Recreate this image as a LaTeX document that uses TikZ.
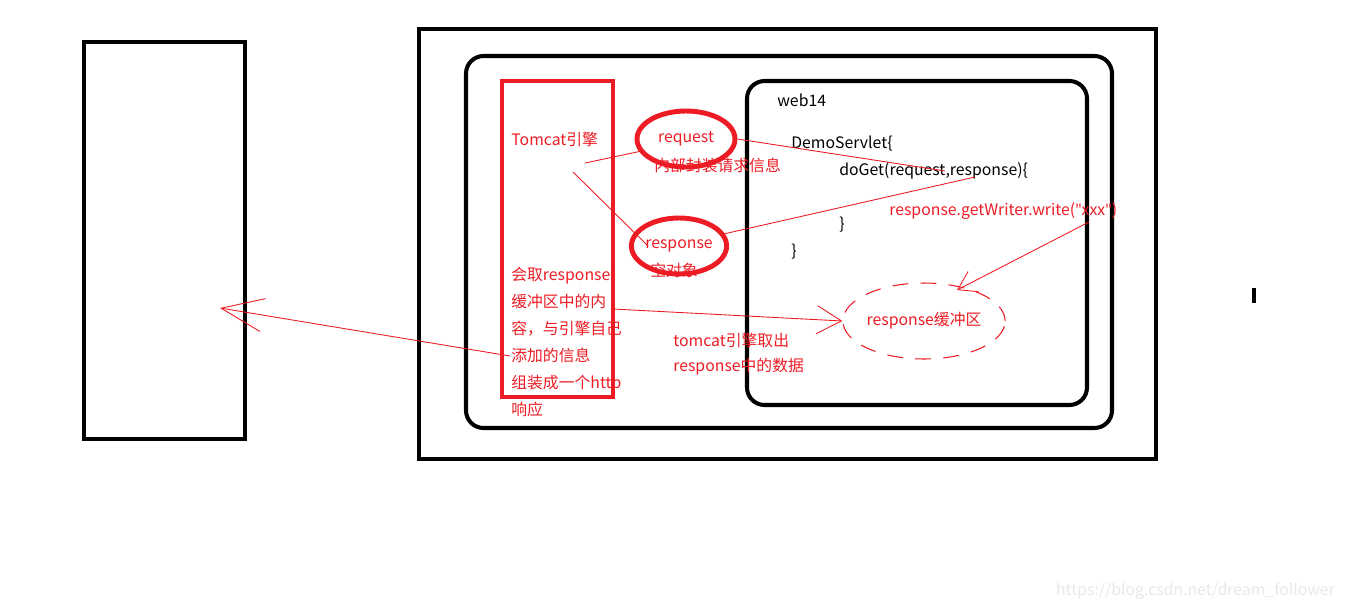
\documentclass[tikz,border=0pt]{standalone}
\usepackage{fontspec}
\setmainfont{Noto Sans CJK SC}
\newfontfamily\latinfont{Noto Sans}
\usepackage{tikz}
\usetikzlibrary{positioning}
\usetikzlibrary{shapes.geometric}
\usetikzlibrary{arrows.meta}
\definecolor{pred}{RGB}{237,28,36}
\newcommand{\dq}{{\latinfont\symbol{34}}}

\begin{document}
\begin{tikzpicture}[x=0.02cm,y=-0.02cm,font=\fontsize{9}{15.3}\selectfont]
	\tikzstyle{box}=[draw=black, line width=2.3pt]
	\tikzstyle{rbox}=[draw=black, line width=2.3pt, rounded corners=10pt]
	\tikzstyle{obj}=[ellipse, draw=pred, line width=2.8pt, text=pred, inner sep=0pt]
	\tikzstyle{note}=[text=pred, anchor=west, inner sep=0pt]
	\tikzstyle{code}=[text=black, anchor=west, inner sep=0pt]
	\tikzstyle{wire}=[draw=pred, line width=0.5pt]
	
	\useasboundingbox (0,0) rectangle (1350,609);
	
	% boxes
	\draw [box] (84,42) rectangle (245,439);
	\draw [box] (419,29) rectangle (1156,459);
	\draw [rbox] (466,56) rectangle (1112,428);
	\draw [rbox] (747,81) rectangle (1087,405);
	\draw [draw=pred, line width=2.3pt] (502,81) rectangle (613,397);
	\fill [black] (1252,288) rectangle (1256,303);
	
	% tomcat side
	\node [note] at (511,139) (tomcat) {Tomcat引擎};
	\node [note] at (654,165) (reqinfo) {内部封装请求信息};
	\node [note] at (650,270) (respinfo) {空对象};
	\node [obj, minimum width=1.96cm, minimum height=1.12cm] at (686,139) (req) {request};
	\node [obj, minimum width=1.88cm, minimum height=1.12cm] at (679,246) (resp) {response};
	\node [note, align=left, anchor=north west] at (511,267) (pack) {会取response\\缓冲区中的内\\容，与引擎自己\\添加的信息\\组装成一个http\\响应};
	\node [note] at (673,340) (fetch1) {tomcat引擎取出};
	\node [note] at (673,367) (fetch2) {response中的数据};
	
	% web14
	\node [code] at (777,100) (web) {web14};
	\node [code] at (791,144) (servlet) {DemoServlet\{};
	\node [code] at (839,171) (doget) {doGet(request,response)\{};
	\node [note] at (889,211) (write) {response.getWriter.write(\dq xxx\dq)};
	\node [code] at (839,225) (close1) {\}};
	\node [code] at (791,252) (close2) {\}};
	\node [ellipse, draw=pred, line width=0.6pt, dash pattern=on 9pt off 7pt, text=pred, minimum width=2.9cm, minimum height=1.52cm, inner sep=0pt] at (924,321) (buf) {response缓冲区};
	
	\coordinate (t1) at (585,163);
	\coordinate (t2) at (573,172);
	\coordinate (t3) at (648,246);
	\coordinate (d1) at (945,171);
	\coordinate (d2) at (975,177);
	\coordinate (w1) at (1089,222);
	\coordinate (w2) at (957,290);
	\coordinate (p1) at (613,309);
	\coordinate (p2) at (510,356);
	\coordinate (client) at (220,308);
	
	\draw [wire] (t1) -- (req.195);
	\draw [wire] (t2) -- (t3);
	\draw [wire] (req.east) -- (d1);
	\draw [wire] (resp.15) -- (d2);
	\draw [wire, -{Straight Barb[length=10pt,width=13pt]}] (w1) -- (w2);
	\draw [wire, -{Straight Barb[length=14pt,width=16pt]}] (p1) -- (buf.west);
	\draw [wire, -{Straight Barb[length=24pt,width=19pt]}] (p2) -- (client);
	
	\node [text=black!9, anchor=east, font=\fontsize{9}{11}\selectfont] at (1341,591) (mark) {https://blog.csdn.net/dream\_follower};
\end{tikzpicture}
\end{document}
